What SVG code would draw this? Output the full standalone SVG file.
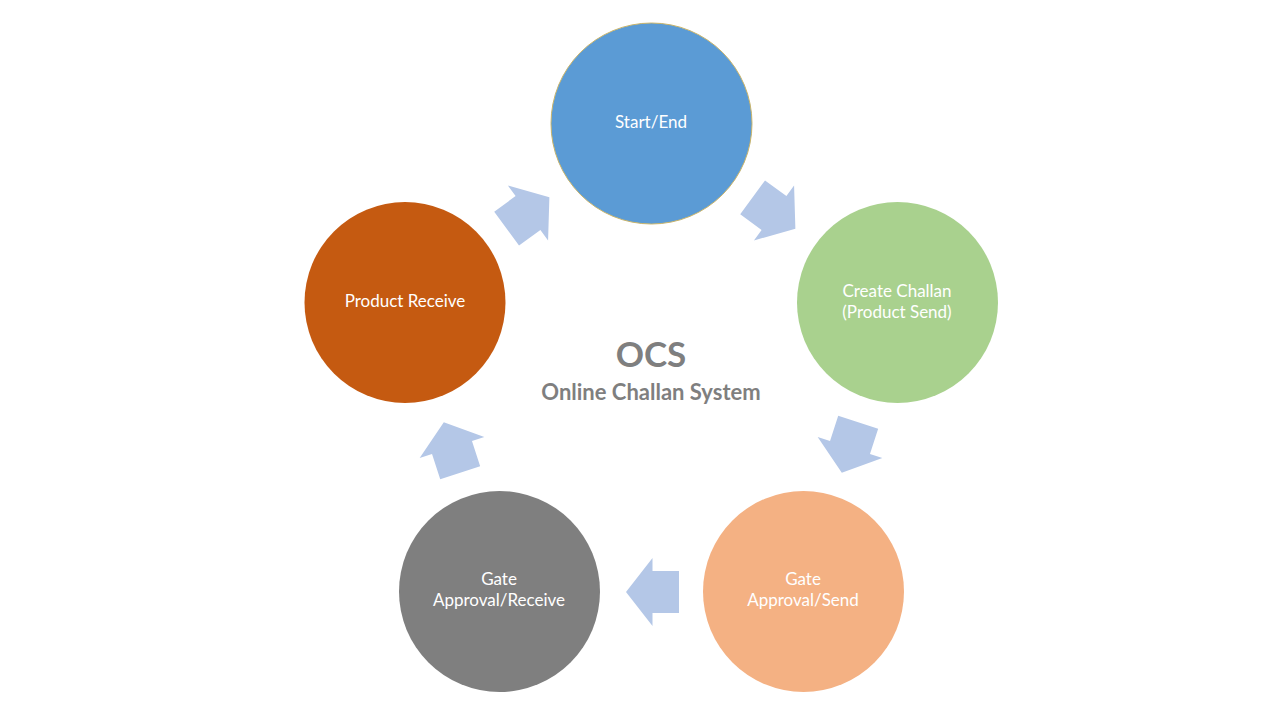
<svg xmlns="http://www.w3.org/2000/svg" width="1280" height="720" viewBox="0 0 1280 720">
<defs>
<style>
.lbl{font-family:Lato,"Open Sans","Liberation Sans",sans-serif;font-size:17px;fill:#ffffff;text-anchor:middle}
.title{font-family:Lato,"Open Sans","Liberation Sans",sans-serif;font-weight:bold;fill:#7f7f7f;text-anchor:middle}
.arr{fill:#b4c7e7}
</style>
<polygon id="blk" points="-26.5,-21 0,-21 0,-34 26.5,0 0,34 0,21 -26.5,21"/>
</defs>
<rect width="1280" height="720" fill="#ffffff"/>
<g id="connectors">
<use href="#blk" class="arr" transform="translate(774,213) rotate(36.2)"/>
<use href="#blk" class="arr" transform="translate(850,447.5) rotate(108)"/>
<use href="#blk" class="arr" transform="translate(652.5,592) rotate(180)"/>
<use href="#blk" class="arr" transform="translate(452,447.5) rotate(252)"/>
<use href="#blk" class="arr" transform="translate(528,213) rotate(-36.2)"/>
</g>
<g id="start-end">
<circle cx="651.5" cy="123.5" r="100.5" fill="#5b9bd5" stroke="#c9b46a" stroke-width="1"/>
<text class="lbl" x="651" y="128">Start/End</text>
</g>
<g id="create-challan">
<circle cx="897.5" cy="302.5" r="100.5" fill="#a9d18e"/>
<text class="lbl" x="897" y="297">Create Challan</text>
<text class="lbl" x="897" y="318">(Product Send)</text>
</g>
<g id="gate-send">
<circle cx="803.5" cy="591.5" r="100.5" fill="#f4b183"/>
<text class="lbl" x="803" y="585">Gate</text>
<text class="lbl" x="803" y="606">Approval/Send</text>
</g>
<g id="gate-receive">
<circle cx="499.5" cy="591.5" r="100.5" fill="#7f7f7f"/>
<text class="lbl" x="499" y="585">Gate</text>
<text class="lbl" x="499" y="606">Approval/Receive</text>
</g>
<g id="product-receive">
<circle cx="405" cy="302.5" r="100.5" fill="#c55a11"/>
<text class="lbl" x="405" y="307">Product Receive</text>
</g>
<g id="center-title">
<text class="title" x="651" y="367" font-size="35">OCS</text>
<text class="title" x="651" y="400" font-size="22">Online Challan System</text>
</g>
</svg>
